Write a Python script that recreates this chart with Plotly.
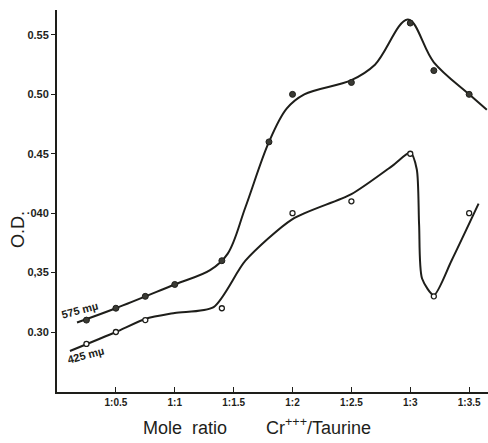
import plotly.graph_objects as go

# Measured points
x_575 = [0.25, 0.5, 0.75, 1.0, 1.4, 1.8, 2.0, 2.5, 3.0, 3.2, 3.5]
y_575 = [0.31, 0.32, 0.33, 0.34, 0.36, 0.46, 0.50, 0.51, 0.56, 0.52, 0.50]
x_425 = [0.25, 0.5, 0.75, 1.4, 2.0, 2.5, 3.0, 3.2, 3.5]
y_425 = [0.29, 0.30, 0.31, 0.32, 0.40, 0.41, 0.45, 0.33, 0.40]

# Hand-drawn fitted curves
cx_575 = [0.17, 0.5, 1.0, 1.3, 1.45, 1.6, 1.8, 1.95, 2.1, 2.5, 2.7, 2.98, 3.2, 3.5, 3.65]
cy_575 = [0.308, 0.32, 0.34, 0.352, 0.366, 0.405, 0.46, 0.488, 0.50, 0.512, 0.525, 0.563, 0.527, 0.50, 0.487]
cx_425 = [0.11, 0.5, 0.75, 1.0, 1.33, 1.6, 2.0, 2.5, 2.85, 3.0, 3.055, 3.075, 3.10, 3.2, 3.35, 3.58]
cy_425 = [0.284, 0.30, 0.311, 0.316, 0.321, 0.36, 0.395, 0.416, 0.44, 0.451, 0.437, 0.39, 0.345, 0.331, 0.36, 0.408]

x_tickvals = [0.5, 1.0, 1.5, 2.0, 2.5, 3.0, 3.5]
x_ticktext = ["1:0.5", "1:1", "1:1.5", "1:2", "1:2.5", "1:3", "1:3.5"]
y_tickvals = [0.30, 0.35, 0.40, 0.45, 0.50, 0.55]
y_ticktext = ["0.30", "0,35", "·040", "0.45", "0.50", "0.55"]

ink = "#1e1e1a"
fig = go.Figure()
fig.add_trace(go.Scatter(x=cx_575, y=cy_575, mode="lines", line=dict(color=ink, width=2, shape="spline", smoothing=1.0), hoverinfo="skip"))
fig.add_trace(go.Scatter(x=cx_425, y=cy_425, mode="lines", line=dict(color=ink, width=2, shape="spline", smoothing=0.7), hoverinfo="skip"))
fig.add_trace(go.Scatter(x=x_575, y=y_575, mode="markers", marker=dict(size=6, color="#3a3a34", line=dict(color=ink, width=1))))
fig.add_trace(go.Scatter(x=x_425, y=y_425, mode="markers", marker=dict(size=5, color="white", line=dict(color=ink, width=1.3))))

L, T, W, H = 57, 10, 431, 382
def px(x, y):
    return (x - L) / W, (T + H - y) / H

annots = []
def ann(text, x, y, size, angle=0, weight="normal"):
    ax, ay = px(x, y)
    annots.append(dict(text=text, x=ax, y=ay, xref="paper", yref="paper", showarrow=False,
                       textangle=angle, font=dict(size=size, color=ink, family="Liberation Sans", weight=weight),
                       xanchor="center", yanchor="middle"))

ann("575 mµ", 80, 310, 11, -15, "bold")
ann("425 mµ", 86, 355, 11, -15, "bold")
ann("O.D.", 18, 230, 18, -90)
ann("Mole  ratio", 185, 428, 18)
ann("Cr<sup>+++</sup>/Taurine", 318, 426, 18)

tf = dict(size=10, color=ink, family="Liberation Sans", weight="bold")
fig.update_layout(
    width=488, height=443, margin=dict(l=L, r=0, t=T, b=443 - T - H),
    paper_bgcolor="white", plot_bgcolor="white", showlegend=False,
    annotations=annots,
    xaxis=dict(range=[0, 3.66], tickvals=x_tickvals, ticktext=x_ticktext, showgrid=False, zeroline=False,
               showline=True, linecolor=ink, linewidth=2, ticks="inside", ticklen=5, tickcolor=ink,
               tickfont=tf),
    yaxis=dict(range=[0.2495, 0.571], tickvals=y_tickvals, ticktext=y_ticktext, showgrid=False, zeroline=False,
               showline=True, linecolor=ink, linewidth=2, ticks="outside", ticklen=4, tickcolor=ink,
               tickfont=dict(size=11, color=ink, family="Liberation Sans", weight="bold")),
)
fig.write_html("out.html", config={"displayModeBar": False},
               post_script="document.body.style.margin='0';document.body.style.overflow='hidden';")
